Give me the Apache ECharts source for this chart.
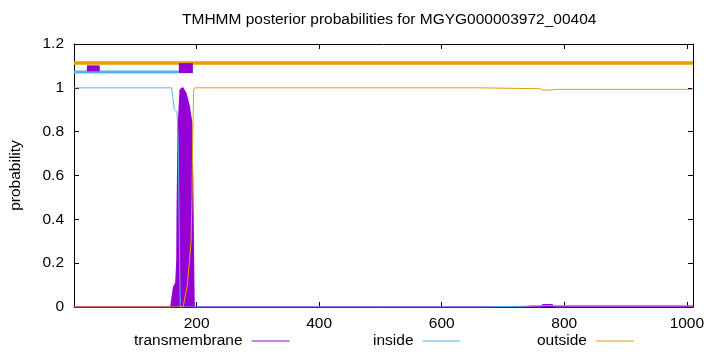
<!DOCTYPE html>
<html>
<head>
<meta charset="utf-8">
<script src="https://cdn.jsdelivr.net/npm/echarts@6/dist/echarts.min.js"></script>
<style>html,body{margin:0;padding:0;background:#fff}#c{width:720px;height:352px}</style>
</head>
<body>
<div id="c"></div>
<script>
// ---- data ----
const titleText = 'TMHMM posterior probabilities for MGYG000003972_00404';
const seriesNames = ['transmembrane', 'inside', 'outside'];
const xTickLabels = ['200', '400', '600', '800', '1000'];
const yTickLabels = ['0', '0.2', '0.4', '0.6', '0.8', '1', '1.2'];

// posterior probability curves: [position, probability]
const transmembrane = [[0,0],[158,0],[162.6,0.09],[166.3,0.11],[168,0.21],[168.5,0.43],[170,0.81],[173.3,0.99],[177.3,1.0],[182.6,0.975],[188,0.914],[192,0.84],[193.5,0.58],[195.2,0.12],[196,0],[762,0],[765,0.01],[780,0.01],[783,0],[1010,0]];
const inside = [[0,1],[159.3,1],[163.6,0.9],[168,0.89],[170,0.754],[173.3,0],[663,0],[665,0.004],[740,0.004],[745,0.007],[1010,0.007]];
const outside = [[0,0],[178,0],[185,0.1],[191,0.3],[192.5,0.5],[193.5,0.73],[195.2,0.99],[197.3,1.0],[663,1.0],[665,0.996],[760,0.996],[765,0.99],[780,0.99],[785,0.993],[1008,0.993],[1010,1.0]];

// predicted topology segments drawn above the curves: [start, end, level]
const topoOutside = [[0, 1010, 1.113]];
const topoInside = [[0, 171, 1.072]];
const topoTMsmall = [[21, 42, 1.089]];
const topoTM = [[171, 194, 1.090]];

const xMin = 0, xMax = 1010;

// ---- chart ----
const C_TM = '#9400d3', C_IN = '#56b4e9', C_OUT = '#e69f00';
const FONT = 'Liberation Sans, Arial, sans-serif';
const txt = {color: '#000', fontFamily: FONT, fontSize: 15.5};

function segs(list) {
  const out = [];
  list.forEach((s, i) => { if (i) out.push([null, null]); out.push([s[0], s[2]]); out.push([s[1], s[2]]); });
  return out;
}
function topo(name, list, color, width) {
  return {name: name, type: 'line', data: segs(list), symbol: 'none', silent: true,
    lineStyle: {color: color, width: width, cap: 'butt'}, itemStyle: {color: color}, connectNulls: false, z: 5};
}
function leg(name, left) {
  return {data: [name], left: left, top: 333, padding: 0, align: 'right', icon: 'rect', itemWidth: 38, itemHeight: 1,
    textStyle: Object.assign({}, txt, {padding: [0, 4, 0, 0]}), selectedMode: false};
}

const chart = echarts.init(document.getElementById('c'), null, {renderer: 'canvas'});
const axisBase = {
  axisLine: {show: true, onZero: false, lineStyle: {color: '#000', width: 1}},
  axisTick: {show: true, inside: true, length: 5, lineStyle: {color: '#000'}},
  splitLine: {show: false}
};
chart.setOption({
  animation: false,
  backgroundColor: '#fff',
  title: {text: titleText, left: 182, top: 12, padding: 0, textStyle: Object.assign({}, txt, {fontWeight: 'normal'})},
  grid: {left: 73, right: 27, top: 44, bottom: 45, containLabel: false},
  legend: [leg(seriesNames[0], 134), leg(seriesNames[1], 373), leg(seriesNames[2], 537)],
  xAxis: [
    Object.assign({type: 'value', min: xMin, max: xMax, interval: 200, position: 'bottom',
      axisLabel: Object.assign({}, txt, {margin: 9, showMinLabel: false, showMaxLabel: false,
        formatter: v => { const i = xTickLabels.indexOf(String(v)); return i >= 0 ? xTickLabels[i] : ''; }})}, axisBase),
    Object.assign({type: 'value', min: xMin, max: xMax, interval: 200, position: 'top', axisLabel: {show: false}}, axisBase)
  ],
  yAxis: [
    Object.assign({type: 'value', min: 0, max: 1.2, interval: 0.2, position: 'left',
      name: 'probability', nameLocation: 'middle', nameGap: 50, nameRotate: 90, nameTextStyle: txt,
      axisLabel: Object.assign({}, txt, {margin: 10, formatter: v => yTickLabels[Math.round(v / 0.2)]})}, axisBase),
    Object.assign({type: 'value', min: 0, max: 1.2, interval: 0.2, position: 'right', axisLabel: {show: false}}, axisBase)
  ],
  series: [
    {name: seriesNames[0], type: 'line', data: transmembrane, symbol: 'none', z: 2,
      lineStyle: {color: C_TM, width: 1.5}, itemStyle: {color: C_TM}, areaStyle: {color: C_TM, opacity: 1}},
    {name: seriesNames[1], type: 'line', data: inside, symbol: 'none', z: 3,
      lineStyle: {color: C_IN, width: 1}, itemStyle: {color: C_IN}},
    {name: seriesNames[2], type: 'line', data: outside, symbol: 'none', z: 4,
      lineStyle: {color: C_OUT, width: 1}, itemStyle: {color: C_OUT}},
    topo('topo-outside', topoOutside, C_OUT, 3.5),
    topo('topo-inside', topoInside, C_IN, 3),
    topo('topo-tm-small', topoTMsmall, C_TM, 6),
    topo('topo-tm', topoTM, C_TM, 10)
  ]
});
</script>
</body>
</html>
